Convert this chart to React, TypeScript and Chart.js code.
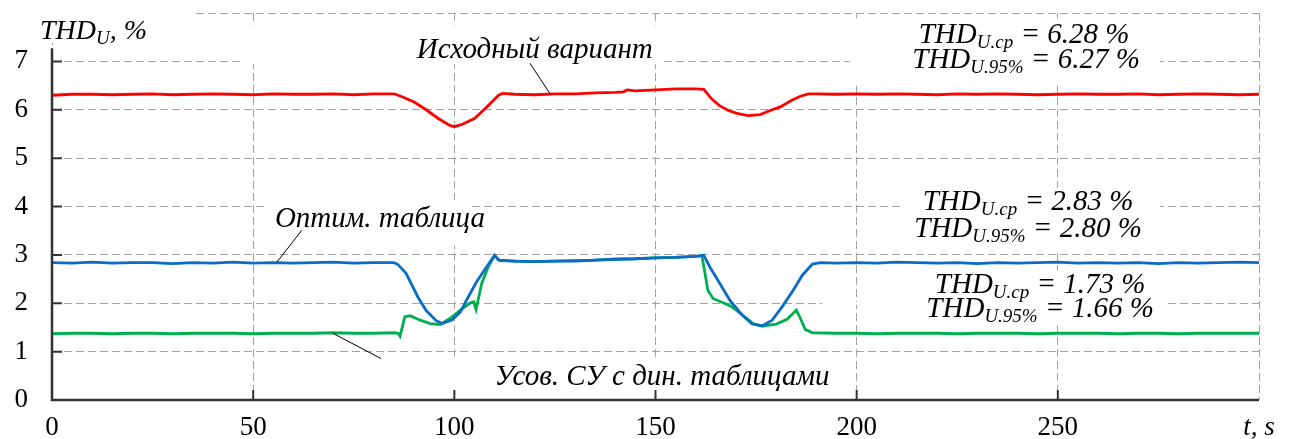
import React, { useEffect, useRef } from 'react';
import { Chart, registerables } from 'chart.js';

Chart.register(...registerables);

// ---- axis ticks ----
const xTickValues = [0, 50, 100, 150, 200, 250, 300];
const yTickValues = [0, 1, 2, 3, 4, 5, 6, 7, 8];
const xAxisUnitLabel = 't, s';

// ---- series: Исходный вариант (red) ----
const redT = [0, 5, 10, 15, 20, 25, 30, 35, 40, 45, 50, 55, 60, 65, 70, 75, 80, 85,
  87, 90, 93, 96, 99, 100, 102, 105, 108, 111, 112,
  115, 120, 125, 130, 135, 140, 142, 143, 145, 150, 155, 160, 162,
  164, 166, 168, 170, 173, 176, 179, 181, 184, 186, 188,
  190, 195, 200, 205, 210, 215, 220, 225, 230, 235, 240, 245, 250, 255, 260, 265, 270, 275, 280, 285, 290, 295, 300];
const redV = [6.30, 6.32, 6.32, 6.31, 6.32, 6.33, 6.31, 6.32, 6.33, 6.32, 6.31, 6.33, 6.32, 6.32, 6.33, 6.31, 6.33, 6.33,
  6.27, 6.16, 6.00, 5.82, 5.67, 5.65, 5.70, 5.82, 6.05, 6.30, 6.34,
  6.32, 6.31, 6.33, 6.33, 6.35, 6.36, 6.37, 6.41, 6.39, 6.41, 6.43, 6.43, 6.42,
  6.22, 6.08, 5.99, 5.93, 5.88, 5.90, 6.00, 6.06, 6.20, 6.28, 6.33,
  6.33, 6.32, 6.33, 6.32, 6.33, 6.32, 6.31, 6.33, 6.32, 6.33, 6.32, 6.31, 6.32, 6.33, 6.32, 6.32, 6.33, 6.31, 6.32, 6.33, 6.32, 6.31, 6.32];

// ---- series: Оптим. таблица (blue) ----
const blueT = [0, 5, 10, 15, 20, 25, 30, 35, 40, 45, 50, 55, 60, 65, 70, 75, 80, 85,
  86, 88, 91, 93, 95.5, 97, 99.5, 101.5, 103, 105.5, 108, 110, 111,
  115, 120, 125, 130, 135, 140, 145, 150, 155, 160, 162,
  163.5, 166, 168.5, 171.5, 174, 176.5, 179, 181.5, 184, 186.5, 189, 191,
  195, 200, 205, 210, 215, 220, 225, 230, 235, 240, 245, 250, 255, 260, 265, 270, 275, 280, 285, 290, 295, 300];
const blueV = [2.84, 2.83, 2.85, 2.83, 2.84, 2.84, 2.82, 2.84, 2.83, 2.85, 2.83, 2.84, 2.83, 2.84, 2.85, 2.83, 2.84, 2.84,
  2.80, 2.62, 2.12, 1.85, 1.64, 1.58, 1.66, 1.82, 2.06, 2.44, 2.75, 2.99, 2.89,
  2.87, 2.86, 2.87, 2.87, 2.89, 2.91, 2.92, 2.94, 2.95, 2.97, 2.99,
  2.75, 2.41, 2.06, 1.76, 1.57, 1.53, 1.65, 1.93, 2.24, 2.58, 2.81, 2.84,
  2.83, 2.84, 2.83, 2.85, 2.84, 2.83, 2.84, 2.82, 2.84, 2.83, 2.84, 2.85, 2.83, 2.84, 2.83, 2.84, 2.82, 2.84, 2.83, 2.84, 2.85, 2.84];

// ---- series: Усов. СУ с дин. таблицами (green) ----
const greenT = [0, 5, 10, 15, 20, 25, 30, 35, 40, 45, 50, 55, 60, 65, 70, 75, 80, 85,
  86, 86.5, 87.7, 89, 91.5, 94, 96.5, 99, 101.5, 104, 104.8, 105.4, 106.8, 108.4, 110, 111.3,
  115, 120, 125, 129, 135, 140, 145, 150, 155, 160, 161.5,
  162.3, 163, 164.3, 166.8, 169, 171.5, 174.3, 176.7, 180, 182.7, 185, 186, 187.2, 189,
  195, 200, 205, 210, 215, 220, 225, 230, 235, 240, 245, 250, 255, 260, 265, 270, 275, 280, 285, 290, 295, 300];
const greenV = [1.37, 1.38, 1.38, 1.37, 1.38, 1.38, 1.37, 1.38, 1.38, 1.38, 1.37, 1.38, 1.38, 1.38, 1.39, 1.38, 1.38, 1.39,
  1.38, 1.32, 1.72, 1.74, 1.65, 1.58, 1.56, 1.69, 1.86, 2.01, 2.03, 1.87, 2.41, 2.75, 2.99, 2.88,
  2.87, 2.86, 2.87, 2.88, 2.89, 2.91, 2.92, 2.94, 2.95, 2.97, 2.99,
  2.62, 2.27, 2.10, 2.01, 1.93, 1.76, 1.58, 1.53, 1.57, 1.67, 1.86, 1.69, 1.46, 1.39,
  1.38, 1.38, 1.37, 1.38, 1.38, 1.38, 1.37, 1.38, 1.38, 1.38, 1.37, 1.38, 1.38, 1.38, 1.37, 1.38, 1.38, 1.37, 1.38, 1.38, 1.38, 1.38];

// ---- text labels ----
const seriesNames = ['Исходный вариант', 'Оптим. таблица', 'Усов. СУ с дин. таблицами'];
const statLabels = [
  ['6.28', '6.27'],
  ['2.83', '2.80'],
  ['1.73', '1.66'],
];

const FAMILY = '"Liberation Serif", "Times New Roman", serif';
const RED = '#ff0000';
const BLUE = '#0a6cc4';
const GREEN = '#00b050';
const GRID = '#a3a3a3';
const AXIS = '#333333';

type Seg = { text: string; size: number; dy?: number };
type TextItem = { segs: Seg[]; t: number; y: number };

const thdSegs = (sub: string, val: string): Seg[] => [
  { text: 'THD', size: 29 },
  { text: 'U.' + sub, size: 19, dy: 5 },
  { text: ' = ' + val + ' %', size: 29 },
];

const textItems: TextItem[] = [
  { segs: [{ text: seriesNames[0], size: 29 }], t: 120.0, y: 7.08 },
  { segs: [{ text: seriesNames[1], size: 29 }], t: 81.5, y: 3.57 },
  { segs: [{ text: seriesNames[2], size: 29 }], t: 151.6, y: 0.3 },
  { segs: thdSegs('cp', statLabels[0][0]), t: 241.6, y: 7.37 },
  { segs: thdSegs('95%', statLabels[0][1]), t: 242.1, y: 6.855 },
  { segs: thdSegs('cp', statLabels[1][0]), t: 242.6, y: 3.92 },
  { segs: thdSegs('95%', statLabels[1][1]), t: 242.6, y: 3.37 },
  { segs: thdSegs('cp', statLabels[2][0]), t: 245.6, y: 2.21 },
  { segs: thdSegs('95%', statLabels[2][1]), t: 245.6, y: 1.71 },
];

// white boxes behind labels (t0, y0, t1, y1) that interrupt the grid
const gridMasks = [
  [-13, 8.3, 35.8, 7.39],
  [46.7, 7.74, 151.6, 6.94],
  [53.7, 4.13, 103.9, 3.2],
  [97.7, 0.89, 195.9, 0.145],
  [198.3, 7.89, 275.4, 6.5],
  [210.8, 4.38, 275.4, 3.1],
  [214.5, 2.68, 276.6, 1.61],
  [191.4, 2.03, 214.5, 1.97],
];

const leaders = [
  [118.8, 6.96, 123.8, 6.33],
  [62.1, 3.51, 55.9, 2.85],
  [69.8, 1.38, 81.8, 0.855],
];

const measure = (ctx: CanvasRenderingContext2D, segs: Seg[]) => {
  let total = 0;
  const widths = segs.map((s) => {
    ctx.font = `italic ${s.size}px ${FAMILY}`;
    const w = ctx.measureText(s.text).width;
    total += w;
    return w;
  });
  return { total, widths };
};

const overlayPlugin = {
  id: 'overlay',
  beforeDatasetsDraw(chart: any) {
    const ctx: CanvasRenderingContext2D = chart.ctx;
    const xs = chart.scales.x;
    const ys = chart.scales.y;
    ctx.save();
    ctx.fillStyle = '#ffffff';
    gridMasks.forEach(([t0, y0, t1, y1]) => {
      const x0 = xs.getPixelForValue(t0);
      const x1 = xs.getPixelForValue(t1);
      const p0 = ys.getPixelForValue(y0);
      const p1 = ys.getPixelForValue(y1);
      ctx.fillRect(x0, p0, x1 - x0, p1 - p0);
    });
    ctx.restore();
  },
  afterDatasetsDraw(chart: any) {
    const ctx: CanvasRenderingContext2D = chart.ctx;
    const xs = chart.scales.x;
    const ys = chart.scales.y;
    const { left, right, bottom } = chart.chartArea;
    ctx.save();
    // axes
    ctx.strokeStyle = AXIS;
    ctx.lineWidth = 2.5;
    ctx.beginPath();
    ctx.moveTo(left, ys.getPixelForValue(7.27));
    ctx.lineTo(left, bottom);
    ctx.lineTo(right, bottom);
    ctx.stroke();
    // inward tick marks
    ctx.lineWidth = 2;
    ctx.beginPath();
    yTickValues.filter((v) => v > 0 && v < 8).forEach((v) => {
      const py = ys.getPixelForValue(v);
      ctx.moveTo(left, py);
      ctx.lineTo(left + 10, py);
    });
    xTickValues.filter((v) => v > 0 && v < 300).forEach((v) => {
      const px = xs.getPixelForValue(v);
      ctx.moveTo(px, bottom);
      ctx.lineTo(px, bottom - 10);
    });
    ctx.stroke();
    // leader lines
    ctx.strokeStyle = '#000';
    ctx.lineWidth = 1;
    ctx.beginPath();
    leaders.forEach(([t1, v1, t2, v2]) => {
      ctx.moveTo(xs.getPixelForValue(t1), ys.getPixelForValue(v1));
      ctx.lineTo(xs.getPixelForValue(t2), ys.getPixelForValue(v2));
    });
    ctx.stroke();
    // texts
    ctx.fillStyle = '#000';
    ctx.textBaseline = 'alphabetic';
    ctx.textAlign = 'left';
    textItems.forEach((it) => {
      const { total, widths } = measure(ctx, it.segs);
      let x = xs.getPixelForValue(it.t) - total / 2;
      const by = ys.getPixelForValue(it.y);
      it.segs.forEach((s, i) => {
        ctx.font = `italic ${s.size}px ${FAMILY}`;
        ctx.fillText(s.text, x, by + (s.dy || 0));
        x += widths[i];
      });
    });
    // y axis title THD_U, %
    const titleSegs: Seg[] = [
      { text: 'THD', size: 28 },
      { text: 'U', size: 19, dy: 5 },
      { text: ', %', size: 28 },
    ];
    let tx = left - 12;
    const tby = ys.getPixelForValue(7.47);
    titleSegs.forEach((s) => {
      ctx.font = `italic ${s.size}px ${FAMILY}`;
      ctx.fillText(s.text, tx, tby + (s.dy || 0));
      tx += ctx.measureText(s.text).width;
    });
    ctx.restore();
  },
};

const toPoints = (t: number[], v: number[]) => t.map((x, i) => ({ x, y: v[i] }));

export default function App() {
  const canvasRef = useRef<HTMLCanvasElement | null>(null);

  useEffect(() => {
    if (!canvasRef.current) return;
    const chart = new Chart(canvasRef.current, {
      type: 'line',
      data: {
        datasets: [
          { label: seriesNames[0], data: toPoints(redT, redV), borderColor: RED, borderWidth: 2.8, pointRadius: 0, tension: 0 },
          { label: seriesNames[1], data: toPoints(blueT, blueV), borderColor: BLUE, borderWidth: 2.8, pointRadius: 0, tension: 0 },
          { label: seriesNames[2], data: toPoints(greenT, greenV), borderColor: GREEN, borderWidth: 2.8, pointRadius: 0, tension: 0 },
        ],
      },
      options: {
        responsive: false,
        animation: false,
        events: [],
        layout: { padding: { left: 0, right: 34, top: 13, bottom: 0 } },
        plugins: { legend: { display: false }, tooltip: { enabled: false } },
        scales: {
          x: {
            type: 'linear',
            min: 0,
            max: 300,
            afterBuildTicks: (s: any) => { s.ticks = xTickValues.map((value) => ({ value })); },
            afterFit: (s: any) => {
              s.height = 39;
              s.paddingLeft = 0;
              s.paddingRight = 0;
            },
            ticks: {
              autoSkip: false,
              maxRotation: 0,
              padding: 12,
              color: '#000',
              font: (c: any) => ({ family: FAMILY, size: 27, style: c.tick && c.tick.value === 300 ? 'italic' : 'normal' }),
              callback: (v: any) => (v === 300 ? xAxisUnitLabel : String(v)),
            },
            grid: { color: GRID, lineWidth: 1, drawTicks: false },
            border: { display: false, dash: [8, 4] },
          },
          y: {
            type: 'linear',
            min: 0,
            max: 8,
            afterBuildTicks: (s: any) => { s.ticks = yTickValues.map((value) => ({ value })); },
            afterFit: (s: any) => {
              s.width = 52;
              s.paddingTop = 0;
              s.paddingBottom = 0;
            },
            ticks: {
              padding: 24,
              color: '#000',
              font: { family: FAMILY, size: 27 },
              callback: (v: any) => (v === 8 ? '' : String(v)),
            },
            grid: { color: GRID, lineWidth: 1, drawTicks: false },
            border: { display: false, dash: [8, 4] },
          },
        },
      },
      plugins: [overlayPlugin],
    } as any);
    return () => chart.destroy();
  }, []);

  return (
    <div style={{ position: 'absolute', left: 0, top: 0, width: 1293, height: 439, background: '#fff' }}>
      <canvas ref={canvasRef} width={1293} height={439} />
    </div>
  );
}
